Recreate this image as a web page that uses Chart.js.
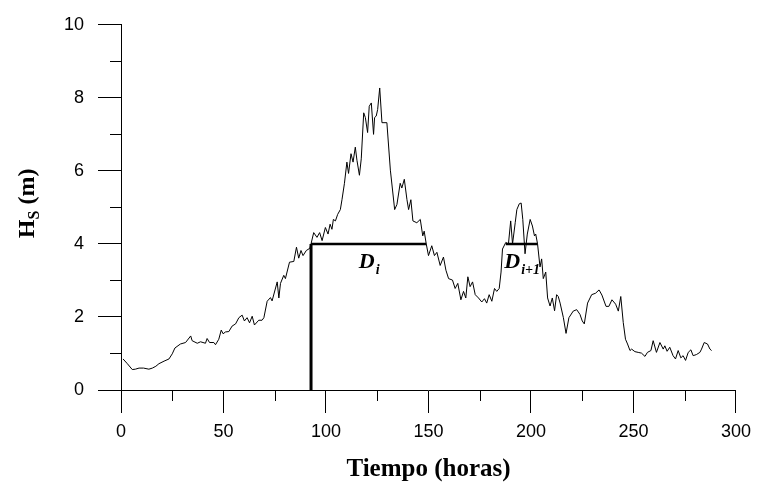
<!DOCTYPE html>
<html>
<head>
<meta charset="utf-8">
<script src="https://cdn.jsdelivr.net/npm/chart.js@4.4.0/dist/chart.umd.min.js"></script>
<style>
  html, body { margin: 0; padding: 0; background: #fff; }
</style>
</head>
<body>
<canvas id="hsChart" width="759" height="486"></canvas>
<script>
// ==========================================
// Hs time series - storm duration sketch
// ==========================================

// time (hours) and Hs (m)
const hours = [
  1.0, 3.1, 5.5, 7.0, 8.8, 11.0, 13.6, 15.3, 17.0, 18.5, 21.0, 23.4, 25.0, 26.3, 29.0, 31.5,
  34.0, 34.7, 37.2, 38.8, 41.2, 42.0, 43.2, 45.3, 46.1, 47.7, 48.9, 49.8, 51.0, 52.6,
  54.2, 55.9, 57.5, 59.1, 60.2, 61.5, 62.7, 64.0, 65.1, 67.2, 68.8, 69.7, 71.3, 72.9, 73.7,
  76.2, 77.0, 77.8, 79.4, 80.2, 82.2, 84.3, 85.6, 86.7, 87.8, 88.8, 90.4, 92.1, 92.7,
  94.0, 95.6, 96.9, 98.1, 99.7, 101.0, 102.0, 102.9, 103.6, 104.6, 105.7, 107.0, 107.8,
  109.0, 110.2, 111.0, 112.2, 113.2, 114.3, 115.1, 116.3, 117.2, 118.4, 119.2, 120.3,
  121.1, 122.1, 123.2, 123.7, 124.5, 125.2, 126.2, 127.3, 129.7, 131.4, 133.5, 134.6,
  136.2, 137.0, 138.2, 139.5, 140.3, 141.4, 142.4, 144.3, 146.0, 147.2, 147.9, 148.9,
  150.0, 151.6, 152.9, 154.1, 155.7, 157.3, 158.5, 159.8, 161.7, 163.0, 164.3, 165.8,
  167.1, 168.2, 169.2, 170.3, 171.5, 172.8, 174.4, 176.0, 177.3, 178.4, 179.6, 180.9,
  182.2, 183.3, 184.5, 185.4, 186.1, 187.7, 189.0, 190.1, 191.0, 192.3, 193.1, 194.3,
  195.2, 196.0, 197.1, 198.2, 199.6, 200.7, 201.7, 202.3, 203.2, 204.4, 205.2, 206.0,
  207.2, 208.1, 209.3, 210.4, 211.5, 212.5, 213.3, 214.2, 215.8, 217.1, 218.5, 220.6,
  222.3, 223.9, 225.0, 226.0, 227.6, 229.6, 231.5, 233.2, 234.6, 236.6, 238.0, 239.5,
  241.3, 242.6, 243.8, 245.0, 246.1, 247.1, 248.3, 249.1, 250.7, 252.3, 253.9, 255.6,
  256.8, 258.5, 259.6, 261.2, 262.9, 264.5, 265.3, 266.4, 267.7, 269.3, 270.5, 271.8,
  273.1, 274.2, 275.4, 276.7, 278.0, 279.1, 280.7, 282.4, 283.2, 284.5, 286.1, 287.3, 288.1
];
const hs = [
  0.85, 0.72, 0.56, 0.57, 0.60, 0.60, 0.57, 0.60, 0.65, 0.72, 0.79, 0.85, 0.99, 1.15, 1.26, 1.30,
  1.48, 1.35, 1.28, 1.32, 1.28, 1.41, 1.30, 1.30, 1.24, 1.39, 1.64, 1.54, 1.59, 1.60,
  1.75, 1.81, 1.98, 2.05, 1.89, 1.98, 1.84, 2.02, 1.78, 1.91, 1.91, 1.98, 2.43, 2.53, 2.44,
  2.96, 2.52, 2.92, 3.14, 3.05, 3.50, 3.52, 3.91, 3.61, 3.82, 3.68, 3.82, 3.88, 4.00,
  4.31, 4.18, 4.31, 4.09, 4.45, 4.27, 4.54, 4.40, 4.67, 4.63, 4.81, 4.94, 5.21,
  5.66, 6.24, 5.93, 6.47, 6.24, 6.65, 6.29, 5.88, 6.33, 7.59, 7.46, 7.05,
  7.77, 7.86, 7.00, 7.46, 7.50, 7.68, 8.27, 7.32, 7.32, 6.02, 4.94, 5.08,
  5.66, 5.53, 5.77, 5.21, 4.94, 5.21, 4.63, 4.58, 4.67, 4.22, 4.35, 4.00,
  3.68, 3.95, 3.68, 3.77, 3.41, 3.64, 3.28, 3.05, 3.01, 2.78, 2.92, 2.47,
  2.70, 2.52, 3.10, 2.83, 2.96, 2.61, 2.52, 2.41, 2.50, 2.38, 2.61, 2.43,
  2.78, 2.70, 2.78, 3.23, 3.86, 4.04, 4.00, 4.63, 4.00, 4.58, 4.94, 5.10,
  5.12, 4.67, 3.73, 4.27, 4.67, 4.49, 4.22, 4.27, 4.00, 3.37, 3.59, 3.05,
  3.23, 2.52, 2.30, 2.52, 2.17, 2.61, 2.56, 2.38, 1.98, 1.55, 1.98, 2.16,
  2.20, 2.07, 1.89, 1.81, 2.38, 2.61, 2.65, 2.74, 2.60, 2.29, 2.29, 2.47,
  2.35, 2.16, 2.56, 1.85, 1.39, 1.26, 1.08, 1.12, 1.05, 1.03, 1.01, 0.92,
  1.03, 1.08, 1.35, 1.03, 1.30, 1.12, 1.21, 1.06, 1.17, 0.94, 0.85, 1.08,
  0.88, 0.94, 0.81, 1.03, 1.10, 0.94, 0.97, 1.03, 1.12, 1.30, 1.26, 1.12, 1.08
];

// storm threshold and durations
const threshold = 4;
const stormStart = [92.7, 187.7];
const stormEnd = [148.9, 203.2];
const stormSubs = ['i', 'i+1'];

// axis ticks
const xTickLabels = [0, 50, 100, 150, 200, 250, 300];
const yTickLabels = [0, 2, 4, 6, 8, 10];

const SANS = '"Liberation Sans", Arial, sans-serif';
const SERIF = '"Liberation Serif", "Times New Roman", serif';

// short ticks between the labelled ones
const minorTicksPlugin = {
    id: 'minorTicks',
    afterDraw(chart) {
        const { ctx, scales: { x, y } } = chart;
        ctx.save();
        ctx.strokeStyle = '#000';
        ctx.lineWidth = 1;
        ctx.beginPath();
        for (let v = x.min; v <= x.max; v += 25) {
            if (xTickLabels.includes(v)) continue;
            const px = Math.round(x.getPixelForValue(v)) + 0.5;
            ctx.moveTo(px, y.bottom);
            ctx.lineTo(px, y.bottom + 11);
        }
        for (let v = y.min; v <= y.max; v += 1) {
            if (yTickLabels.includes(v)) continue;
            const py = Math.round(y.getPixelForValue(v)) + 0.5;
            ctx.moveTo(x.left, py);
            ctx.lineTo(x.left - 11, py);
        }
        ctx.stroke();
        ctx.restore();
    }
};

// axis titles (y title has a subscript)
const axisTitlesPlugin = {
    id: 'axisTitles',
    afterDraw(chart) {
        const { ctx, chartArea } = chart;
        ctx.save();
        ctx.fillStyle = '#000';
        ctx.textBaseline = 'alphabetic';

        // x title
        ctx.font = `bold 25px ${SERIF}`;
        ctx.textAlign = 'center';
        ctx.fillText('Tiempo (horas)', (chartArea.left + chartArea.right) / 2, chart.height - 10);

        // y title, rotated
        ctx.textAlign = 'left';
        const big = `bold 24px ${SERIF}`;
        const small = `bold 16px ${SERIF}`;
        ctx.font = big;
        const wH = ctx.measureText('H').width;
        const wRest = ctx.measureText(' (m)').width;
        ctx.font = small;
        const wS = ctx.measureText('S').width;
        const total = wH + wS + wRest;
        ctx.translate(34, (chartArea.top + chartArea.bottom) / 2 - 4);
        ctx.rotate(-Math.PI / 2);
        let cx = -total / 2;
        ctx.font = big;
        ctx.fillText('H', cx, 0);
        cx += wH;
        ctx.font = small;
        ctx.fillText('S', cx, 5);
        cx += wS;
        ctx.font = big;
        ctx.fillText(' (m)', cx, 0);
        ctx.restore();
    }
};

// D_i labels under each duration segment
const stormLabelPlugin = {
    id: 'stormLabels',
    afterDatasetsDraw(chart) {
        const { ctx, scales: { x, y } } = chart;
        ctx.save();
        ctx.fillStyle = '#000';
        ctx.textBaseline = 'alphabetic';
        ctx.textAlign = 'left';
        const big = `italic bold 22px ${SERIF}`;
        const small = `italic bold 14px ${SERIF}`;
        stormStart.forEach((s, i) => {
            const mid = x.getPixelForValue((s + stormEnd[i]) / 2);
            const base = y.getPixelForValue(threshold) + 24;
            ctx.font = big;
            const wD = ctx.measureText('D').width;
            ctx.font = small;
            const wSub = ctx.measureText(stormSubs[i]).width;
            const left = mid - (wD + wSub) / 2;
            ctx.font = big;
            ctx.fillText('D', left, base);
            ctx.font = small;
            ctx.fillText(stormSubs[i], left + wD + 1, base + 6);
        });
        ctx.restore();
    }
};

function buildSeries() {
    return hours.map((h, i) => ({ x: h, y: hs[i] }));
}

function buildDurationLines() {
    const sets = [];
    // vertical marker at start of the first storm
    sets.push({
        data: [{ x: stormStart[0], y: 0 }, { x: stormStart[0], y: threshold }],
        borderColor: '#000', borderWidth: 3, pointRadius: 0, tension: 0
    });
    stormStart.forEach((s, i) => {
        sets.push({
            data: [{ x: s, y: threshold }, { x: stormEnd[i], y: threshold }],
            borderColor: '#000', borderWidth: 2.5, pointRadius: 0, tension: 0
        });
    });
    return sets;
}

const ctx = document.getElementById('hsChart');
new Chart(ctx, {
    type: 'line',
    data: {
        datasets: [{
            data: buildSeries(),
            borderColor: '#000',
            borderWidth: 1,
            pointRadius: 0,
            tension: 0
        }, ...buildDurationLines()]
    },
    options: {
        responsive: false,
        animation: false,
        devicePixelRatio: 1,
        layout: { padding: { top: 19, right: 21, left: 0, bottom: 0 } },
        plugins: {
            legend: { display: false },
            tooltip: { enabled: false }
        },
        scales: {
            x: {
                type: 'linear',
                min: 0,
                max: 300,
                afterFit(scale) { scale.height = 96; },
                border: { display: true, color: '#000', width: 1 },
                grid: {
                    drawOnChartArea: false,
                    drawTicks: true,
                    tickLength: 23,
                    color: c => xTickLabels.includes(c.tick && c.tick.value) ? '#000' : 'rgba(0,0,0,0)'
                },
                ticks: {
                    stepSize: 50,
                    autoSkip: false,
                    maxRotation: 0,
                    padding: 8,
                    color: '#000',
                    font: { family: SANS, size: 18 },
                    callback: v => xTickLabels.includes(v) ? v : ''
                }
            },
            y: {
                type: 'linear',
                min: 0,
                max: 10,
                afterFit(scale) { scale.width = 121; },
                border: { display: true, color: '#000', width: 1 },
                grid: {
                    drawOnChartArea: false,
                    drawTicks: true,
                    tickLength: 23,
                    color: c => yTickLabels.includes(c.tick && c.tick.value) ? '#000' : 'rgba(0,0,0,0)'
                },
                ticks: {
                    stepSize: 2,
                    autoSkip: false,
                    padding: 14,
                    color: '#000',
                    font: { family: SANS, size: 18 },
                    callback: v => yTickLabels.includes(v) ? v : ''
                }
            }
        }
    },
    plugins: [minorTicksPlugin, axisTitlesPlugin, stormLabelPlugin]
});
</script>
</body>
</html>
